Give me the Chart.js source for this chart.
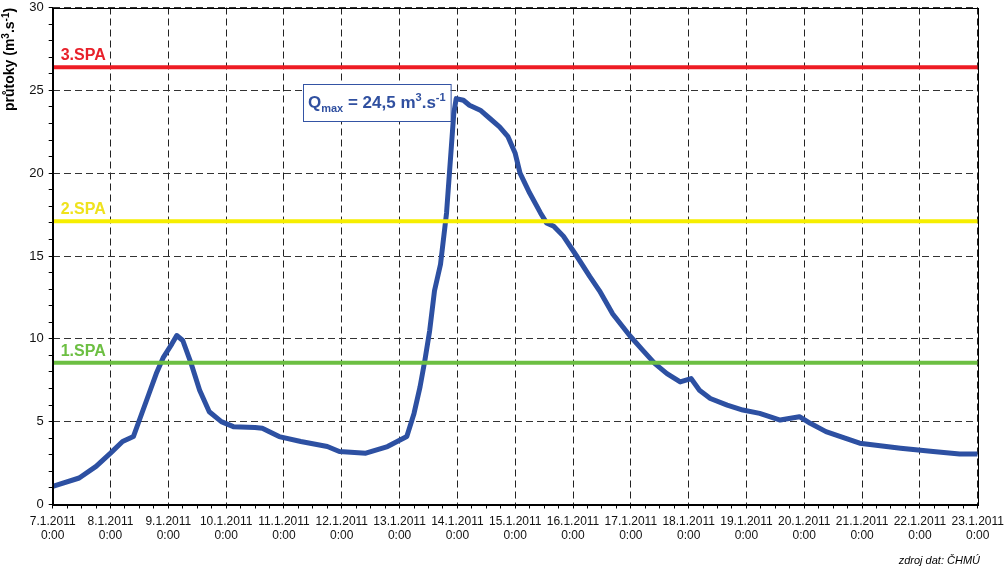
<!DOCTYPE html>
<html><head><meta charset="utf-8">
<script src="https://cdn.jsdelivr.net/npm/chart.js@4.4.1/dist/chart.umd.min.js"></script>
<style>html,body{margin:0;padding:0;background:#fff}canvas{display:block}</style>
</head><body>
<canvas id="c" width="1008" height="572"></canvas>
<script>
// hours since 7.1.2011 0:00
const hours = [0,11,18,24,29,33.5,36,40,43,46,49.5,51.5,54,57.5,61,65,70,75,84,87,94,103,114,119,130,139,147,150,152.5,154.5,156.5,158.5,161,163.5,165.5,166.5,167.5,170.5,173,177.5,181.5,185.5,189,192,194,198,202.5,205,208,212,217.5,223,227,232.5,239.5,245,250,255,260.5,265,268.5,273,280,286.5,293.5,302,310,314.5,321,328,335,352,365.5,376.5,384];
const flow  = [1.1,1.6,2.3,3.1,3.8,4.1,5.1,6.7,7.9,8.9,9.7,10.2,9.9,8.5,6.9,5.6,5.0,4.7,4.65,4.6,4.1,3.8,3.5,3.2,3.1,3.5,4.1,5.5,7.1,8.7,10.5,12.9,14.5,17.6,21.6,23.6,24.5,24.4,24.1,23.8,23.3,22.8,22.2,21.2,20.0,18.8,17.6,17.0,16.8,16.2,15.0,13.75,12.9,11.5,10.2,9.3,8.5,7.9,7.4,7.6,6.9,6.4,6.0,5.7,5.5,5.1,5.3,4.9,4.4,4.05,3.7,3.4,3.2,3.05,3.05];
const spaLevels = [8.55, 17.1, 26.4];
const spaLabels = ['1.SPA','2.SPA','3.SPA'];
const spaColors = ['#6cbf42','#f6ee00','#ee1c24'];
const spaTextColors = ['#6cbf42','#efe21c','#e8202a'];
const xTickLabels = ['7.1.2011','8.1.2011','9.1.2011','10.1.2011','11.1.2011','12.1.2011','13.1.2011','14.1.2011','15.1.2011','16.1.2011','17.1.2011','18.1.2011','19.1.2011','20.1.2011','21.1.2011','22.1.2011','23.1.2011'];
const xTickTime = '0:00';
const yLabelStep = 5;

const FONT = '"Liberation Sans", Arial, sans-serif';
Chart.defaults.font.family = FONT;
Chart.defaults.color = '#111';

const xMax = (xTickLabels.length - 1) * 24;

const datasets = spaLevels.map((lv, i) => ({
  label: spaLabels[i],
  data: [{x: 0, y: lv}, {x: xMax, y: lv}],
  borderColor: spaColors[i],
  borderWidth: 4,
  pointRadius: 0,
  borderCapStyle: 'butt'
}));
datasets.push({
  label: 'průtok',
  data: hours.map((h, i) => ({x: h, y: flow[i]})),
  borderColor: '#2d50a2',
  borderWidth: 5,
  pointRadius: 0,
  tension: 0,
  borderJoinStyle: 'round'
});

function drawRich(ctx, parts, x, y) {
  let cx = x;
  for (const p of parts) {
    ctx.font = 'bold ' + p.size + 'px ' + FONT;
    ctx.fillText(p.t, cx, y + (p.dy || 0));
    cx += ctx.measureText(p.t).width;
  }
  return cx - x;
}
function richWidth(ctx, parts) {
  let w = 0;
  for (const p of parts) { ctx.font = 'bold ' + p.size + 'px ' + FONT; w += ctx.measureText(p.t).width; }
  return w;
}

const deco = {
  id: 'deco',
  afterDraw(chart) {
    const {ctx, chartArea: a, scales: {x, y}} = chart;
    ctx.save();
    // plot frame
    ctx.strokeStyle = '#000'; ctx.lineWidth = 1; ctx.setLineDash([]);
    ctx.strokeRect(Math.round(a.left) + 0.5, Math.round(a.top) + 0.5, Math.round(a.right - a.left), Math.round(a.bottom - a.top));
    // SPA labels
    ctx.textAlign = 'left'; ctx.textBaseline = 'alphabetic';
    ctx.font = 'bold 16px ' + FONT;
    spaLevels.forEach((lv, i) => {
      ctx.fillStyle = spaTextColors[i];
      ctx.fillText(spaLabels[i], a.left + 8, y.getPixelForValue(lv) - 7);
    });
    // Qmax annotation
    let mi = 0; flow.forEach((v, i) => { if (v > flow[mi]) mi = i; });
    const qTxt = flow[mi].toFixed(1).replace('.', ',');
    const parts = [
      {t: 'Q', size: 17}, {t: 'max', size: 11, dy: 4},
      {t: ' = ' + qTxt + ' m', size: 17}, {t: '3', size: 11, dy: -7},
      {t: '.s', size: 17}, {t: '-1', size: 11, dy: -7}
    ];
    const tw = richWidth(ctx, parts);
    const px = x.getPixelForValue(hours[mi]);
    const py = y.getPixelForValue(flow[mi]);
    const bw = tw + 10, bh = 37;
    const bx = Math.round(px - 6 - bw), by = Math.round(py - 14.5);
    ctx.fillStyle = '#fff';
    ctx.fillRect(bx, by, bw, bh);
    ctx.strokeStyle = '#3454a4'; ctx.lineWidth = 1;
    ctx.strokeRect(bx + 0.5, by + 0.5, bw, bh);
    ctx.fillStyle = '#3050a0';
    drawRich(ctx, parts, bx + 5, by + 24);
    // Y title
    ctx.save();
    ctx.translate(14, 111);
    ctx.rotate(-Math.PI / 2);
    ctx.fillStyle = '#000';
    drawRich(ctx, [
      {t: 'průtoky (m', size: 14}, {t: '3', size: 10, dy: -5},
      {t: '.s', size: 14}, {t: '-1', size: 10, dy: -5}, {t: ')', size: 14}
    ], 0, 0);
    ctx.restore();
    // footer
    ctx.font = 'italic 11px ' + FONT;
    ctx.fillStyle = '#000';
    ctx.textAlign = 'right';
    ctx.fillText('zdroj dat: ČHMÚ', 980, 564);
    ctx.restore();
  }
};

new Chart(document.getElementById('c'), {
  type: 'line',
  data: {datasets},
  plugins: [deco],
  options: {
    responsive: false,
    animation: false,
    layout: {padding: {top: 7.5, right: 30.3, bottom: 0, left: 0}},
    plugins: {legend: {display: false}, tooltip: {enabled: false}},
    scales: {
      x: {
        type: 'linear', min: 0, max: xMax,
        afterFit: s => { s.height = 67.5; s.paddingLeft = 0; s.paddingRight = 0; },
        ticks: {
          stepSize: 6, autoSkip: false, maxRotation: 0, padding: 6,
          font: {size: 12}, color: '#111',
          callback: v => (v % 24 === 0) ? [xTickLabels[v / 24], xTickTime] : ''
        },
        grid: {
          color: c => (c.tick && c.tick.value % 24 === 0) ? '#222' : 'rgba(0,0,0,0)',
          tickColor: '#000', tickLength: 4, lineWidth: 1
        },
        border: {display: true, color: '#000', dash: [7, 4]}
      },
      y: {
        min: 0, max: 30,
        afterFit: s => { s.width = 52.7; s.paddingTop = 0; s.paddingBottom = 0; },
        ticks: {
          stepSize: 1, autoSkip: false, padding: 5,
          font: {size: 13}, color: '#111',
          callback: v => (v % yLabelStep === 0) ? v : ''
        },
        grid: {
          color: c => (c.tick && c.tick.value % yLabelStep === 0) ? '#333' : 'rgba(0,0,0,0)',
          tickColor: '#000', tickLength: 4, lineWidth: 1
        },
        border: {display: true, color: '#000', dash: [7, 4]}
      }
    }
  }
});
</script>
</body></html>
